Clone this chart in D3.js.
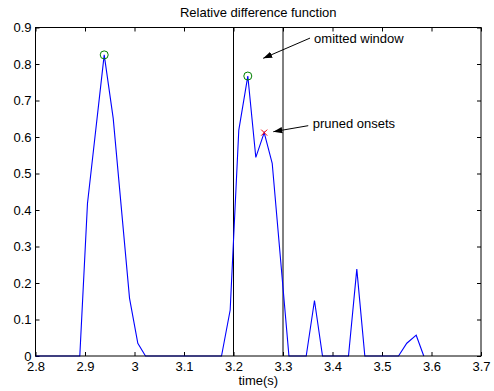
<!DOCTYPE html>
<html>
<head>
<meta charset="utf-8">
<script src="https://cdn.jsdelivr.net/npm/d3@7"></script>
<style>
  body { margin: 0; background: #fff; }
  text { font-family: "Liberation Sans", Arial, sans-serif; }
</style>
</head>
<body>
<svg id="chart" width="494" height="391"></svg>
<script>
// relative difference function
var times = [2.8, 2.8895, 2.905, 2.9388, 2.957, 2.990, 3.0067, 3.0222, 3.1758, 3.1933, 3.2107, 3.2289,
  3.2451, 3.262, 3.2782, 3.312, 3.3469, 3.3636, 3.3798, 3.4323, 3.4491, 3.4653, 3.5333, 3.5501,
  3.5691, 3.5844];
var values = [0, 0, 0.418, 0.825, 0.651, 0.158, 0.035, 0, 0, 0.126, 0.619, 0.767,
  0.544, 0.612, 0.528, 0, 0, 0.152, 0, 0, 0.238, 0, 0, 0.035,
  0.057, 0];
var peaks = [[2.9388, 0.825], [3.2289, 0.767]];
var pruned = [[3.262, 0.612]];
var windowEdges = [3.2, 3.3];
var xTicks = [2.8, 2.9, 3, 3.1, 3.2, 3.3, 3.4, 3.5, 3.6, 3.7];
var yTicks = [0, 0.1, 0.2, 0.3, 0.4, 0.5, 0.6, 0.7, 0.8, 0.9];
var notes = [
  {text: "omitted window", tx: 3.3628, ty: 0.8575, from: [3.3546, 0.871], to: [3.260, 0.8156]},
  {text: "pruned onsets", tx: 3.360, ty: 0.6255, from: [3.351, 0.631], to: [3.2804, 0.6145]}
];

var svg = d3.select("#chart"),
  MARGINS = {left: 35.5, right: 481, top: 27.5, bottom: 356},
  xScale = d3.scaleLinear().domain([2.8, 3.7]).range([MARGINS.left, MARGINS.right]),
  yScale = d3.scaleLinear().domain([0, 0.9]).range([MARGINS.bottom, MARGINS.top]);

svg.append("defs").append("marker")
  .attr("id", "head")
  .attr("viewBox", "0 0 10 10")
  .attr("refX", 10).attr("refY", 5)
  .attr("markerWidth", 9).attr("markerHeight", 9)
  .attr("markerUnits", "userSpaceOnUse")
  .attr("orient", "auto")
  .append("path")
  .attr("d", "M0,1.5 L10,5 L0,8.5 z")
  .style("fill", "#000");

function styleAxis(g) {
  g.select(".domain").remove();
  g.selectAll("line").style("stroke", "#000");
  g.selectAll("text").style("font-size", "13px").style("fill", "#000")
    .style("font-family", "'Liberation Sans', Arial, sans-serif");
}

svg.append("g")
  .attr("transform", "translate(0," + MARGINS.bottom + ")")
  .call(d3.axisBottom(xScale).tickValues(xTicks).tickSize(-4).tickPadding(6).tickFormat(d3.format("")))
  .call(styleAxis);
svg.append("g")
  .attr("transform", "translate(0," + MARGINS.top + ")")
  .call(d3.axisTop(xScale).tickValues(xTicks).tickSize(-4).tickFormat(""))
  .call(styleAxis);
svg.append("g")
  .attr("transform", "translate(" + MARGINS.left + ",0)")
  .call(d3.axisLeft(yScale).tickValues(yTicks).tickSize(-4).tickPadding(4).tickFormat(d3.format("")))
  .call(styleAxis);
svg.append("g")
  .attr("transform", "translate(" + MARGINS.right + ",0)")
  .call(d3.axisRight(yScale).tickValues(yTicks).tickSize(-4).tickFormat(""))
  .call(styleAxis);

// omitted window edges
svg.selectAll(".edge")
  .data(windowEdges)
  .enter().append("line")
  .attr("x1", function(d) { return xScale(d); })
  .attr("x2", function(d) { return xScale(d); })
  .attr("y1", yScale(0)).attr("y2", yScale(0.9))
  .style("stroke", "#000").style("stroke-width", 1);

var line = d3.line()
  .x(function(d, i) { return xScale(times[i]); })
  .y(function(d) { return yScale(d); });

svg.append("path")
  .datum(values)
  .attr("d", line)
  .style("fill", "none")
  .style("stroke", "#0000ff")
  .style("stroke-width", 1.1);

svg.append("rect")
  .attr("x", MARGINS.left).attr("y", MARGINS.top)
  .attr("width", MARGINS.right - MARGINS.left)
  .attr("height", MARGINS.bottom - MARGINS.top)
  .style("fill", "none").style("stroke", "#000");

svg.selectAll(".peak")
  .data(peaks)
  .enter().append("circle")
  .attr("cx", function(d) { return xScale(d[0]); })
  .attr("cy", function(d) { return yScale(d[1]); })
  .attr("r", 4)
  .style("fill", "none").style("stroke", "#008000");

svg.selectAll(".pruned")
  .data(pruned)
  .enter().append("path")
  .attr("d", function(d) {
    var x = xScale(d[0]), y = yScale(d[1]), s = 3;
    return "M" + (x - s) + "," + (y - s) + "L" + (x + s) + "," + (y + s) +
      "M" + (x - s) + "," + (y + s) + "L" + (x + s) + "," + (y - s);
  })
  .style("stroke", "#ff0000").style("stroke-width", 1);

notes.forEach(function(n) {
  svg.append("line")
    .attr("x1", xScale(n.from[0])).attr("y1", yScale(n.from[1]))
    .attr("x2", xScale(n.to[0])).attr("y2", yScale(n.to[1]))
    .style("stroke", "#000")
    .attr("marker-end", "url(#head)");
  svg.append("text")
    .attr("x", xScale(n.tx)).attr("y", yScale(n.ty))
    .style("font-size", "13px")
    .text(n.text);
});

svg.append("text")
  .attr("x", (MARGINS.left + MARGINS.right) / 2)
  .attr("y", 17)
  .style("text-anchor", "middle")
  .style("font-size", "13px")
  .text("Relative difference function");

svg.append("text")
  .attr("x", (MARGINS.left + MARGINS.right) / 2)
  .attr("y", 385)
  .style("text-anchor", "middle")
  .style("font-size", "13px")
  .text("time(s)");
</script>
</body>
</html>
